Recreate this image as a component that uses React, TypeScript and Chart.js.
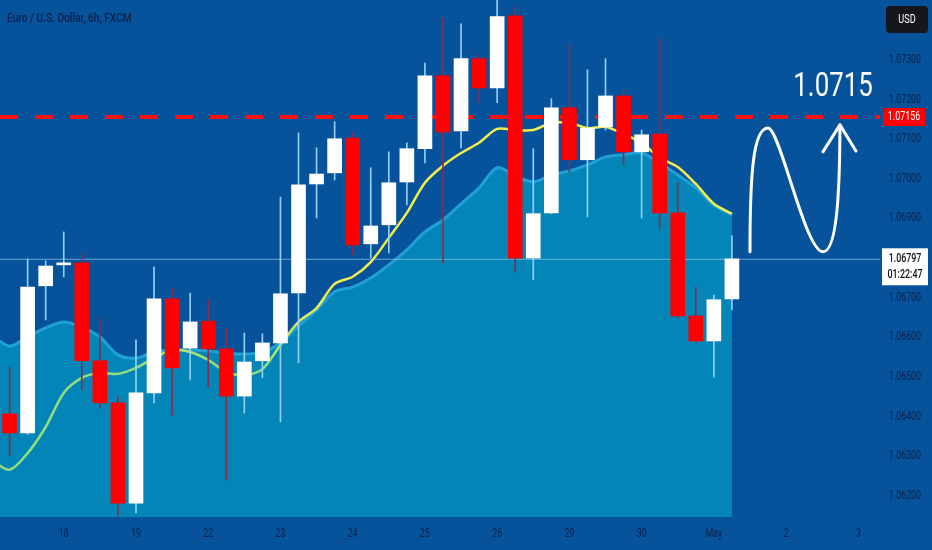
import { useEffect, useRef } from 'react';
import { Chart, registerables } from 'chart.js';

Chart.register(...registerables);

// 6h bars, Apr 17 06:00 -> May 1 06:00 (index = bar number)
const opens = [
  1.06407, 1.06359, 1.0673, 1.06783, 1.06788, 1.06541, 1.06435, 1.06182, 1.0646, 1.06697,
  1.06573, 1.06641, 1.06571, 1.06452, 1.06541, 1.06586, 1.06712, 1.06987, 1.07015, 1.07103,
  1.06836, 1.06884, 1.06992, 1.07076, 1.0726, 1.07121, 1.07303, 1.07229, 1.07411, 1.068,
  1.06914, 1.07179, 1.07048, 1.07131, 1.07209, 1.07068, 1.07113, 1.06914, 1.06654, 1.06591,
  1.06697,
];
const highs = [
  1.06525, 1.06798, 1.06793, 1.06866, 1.06813, 1.06649, 1.0645, 1.06594, 1.06778, 1.06725,
  1.06712, 1.06695, 1.06624, 1.06611, 1.06609, 1.06954, 1.07116, 1.07078, 1.07144, 1.07116,
  1.07028, 1.07068, 1.07091, 1.07292, 1.07406, 1.07391, 1.07312, 1.0746, 1.07434, 1.07076,
  1.07202, 1.07338, 1.07275, 1.07303, 1.07224, 1.07123, 1.07356, 1.06992, 1.06727, 1.06707,
  1.06856,
];
const lows = [
  1.06301, 1.06355, 1.06644, 1.06753, 1.06467, 1.06422, 1.0615, 1.06157, 1.06435, 1.06404,
  1.06493, 1.06475, 1.0624, 1.06409, 1.06498, 1.06387, 1.06536, 1.06901, 1.06997, 1.06808,
  1.068, 1.06813, 1.06934, 1.0704, 1.06788, 1.07078, 1.07192, 1.07192, 1.06765, 1.06745,
  1.06912, 1.07017, 1.06904, 1.07123, 1.07035, 1.06901, 1.06874, 1.06649, 1.06588, 1.065,
  1.06669,
];
const closes = [
  1.06359, 1.06727, 1.0678, 1.06788, 1.06541, 1.06435, 1.06182, 1.0646, 1.06697, 1.06523,
  1.06639, 1.06571, 1.06452, 1.06538, 1.06586, 1.0671, 1.06985, 1.07012, 1.07101, 1.06833,
  1.06881, 1.0699, 1.07076, 1.0726, 1.07118, 1.07303, 1.07229, 1.07409, 1.068, 1.06912,
  1.07179, 1.07048, 1.07128, 1.07209, 1.07068, 1.07111, 1.06914, 1.06654, 1.06591, 1.06695,
  1.06798,
];

// moving averages, first value belongs to bar -1 (just off the left edge)
const fastMa = [
  1.06291, 1.06266, 1.06308, 1.06374, 1.0646, 1.06498, 1.0651, 1.06508, 1.06523, 1.06548,
  1.06568, 1.06563, 1.06543, 1.06513, 1.06505, 1.0652, 1.06581, 1.06639, 1.06674, 1.06735,
  1.06753, 1.0679, 1.06851, 1.06914, 1.0699, 1.07033, 1.07065, 1.07091, 1.07126, 1.07123,
  1.07123, 1.07141, 1.07141, 1.07128, 1.07131, 1.07113, 1.07091, 1.07053, 1.0703, 1.06987,
  1.06937, 1.06912,
];
const slowMa = [
  1.06606, 1.06578, 1.06601, 1.06624, 1.06639, 1.06626, 1.06601, 1.06556, 1.06548, 1.06563,
  1.06568, 1.06568, 1.06566, 1.06561, 1.06558, 1.06563, 1.06586, 1.06629, 1.06669, 1.06715,
  1.06727, 1.0675, 1.06783, 1.06821, 1.06866, 1.06896, 1.06937, 1.06977, 1.07028, 1.07007,
  1.06992, 1.0701, 1.0702, 1.07035, 1.07055, 1.07061, 1.07065, 1.0704, 1.0701, 1.06977,
  1.06934, 1.06909,
];

const dayLabels = ['18', '19', '22', '23', '24', '25', '26', '29', '30', 'May', '2', '3'];
const dayStartBar = [3, 7, 11, 15, 19, 23, 27, 31, 35, 39, 43, 47];

const title = 'Euro / U.S. Dollar, 6h, FXCM';
const currency = 'USD';
const lastPrice = 1.06797;
const countdown = '01:22:47';
const targetPrice = 1.07156;
const targetText = '1.0715';

// hand drawn arrow: start, then cubic segments (cp1, cp2, end) in bar/price units
const arrowPath = [
  [41.0, 1.06816],
  [41.0, 1.0701], [41.17, 1.07128], [42.0, 1.07128],
  [42.66, 1.07128], [44.05, 1.06816], [45.04, 1.06816],
  [45.76, 1.06816], [45.98, 1.06947], [45.98, 1.07136],
];
const arrowHead = [[45.04, 1.07068], [45.98, 1.07136], [46.87, 1.0707]];
const targetTextAt = [45.6, 1.0723];

const X_MIN = -0.53;
const X_MAX = 48.2;
const Y_MIN = 1.06147;
const Y_MAX = 1.07451;

const BG = '#07539b';
const AXIS_TEXT = '#0b2148';
const FONT = 'Roboto, sans-serif';

// TradingView's font is narrow; squeeze Roboto horizontally
function narrowText(ctx: CanvasRenderingContext2D, text: string, x: number, y: number, align: CanvasTextAlign, sx = 0.78) {
  ctx.save();
  ctx.translate(x, y);
  ctx.scale(sx, 1);
  ctx.textAlign = align;
  ctx.fillText(text, 0, 0);
  ctx.restore();
}

const tvPlugin = {
  id: 'tvDecor',
  beforeDraw(chart: any) {
    const { ctx, width, height } = chart;
    ctx.save();
    ctx.fillStyle = BG;
    ctx.fillRect(0, 0, width, height);
    ctx.restore();
  },
  afterDraw(chart: any) {
    const { ctx, scales, chartArea } = chart;
    const x = scales.x;
    const y = scales.y;
    const px = (p: number[]) => [x.getPixelForValue(p[0]), y.getPixelForValue(p[1])];

    ctx.save();
    ctx.textBaseline = 'middle';

    // title
    ctx.fillStyle = AXIS_TEXT;
    ctx.font = `500 13px ${FONT}`;
    narrowText(ctx, title, 7, 19, 'left');

    // axis labels
    ctx.font = `12px ${FONT}`;
    y.ticks.forEach((t: any) => {
      narrowText(ctx, Number(t.value).toFixed(5), chartArea.right + 25, y.getPixelForValue(t.value), 'center', 0.73);
    });
    x.ticks.forEach((t: any) => {
      const i = dayStartBar.indexOf(t.value);
      if (i >= 0) narrowText(ctx, dayLabels[i], x.getPixelForValue(t.value), chartArea.bottom + 16.5, 'center', 0.72);
    });

    // arrow
    ctx.strokeStyle = '#ffffff';
    ctx.lineWidth = 3;
    ctx.lineCap = 'round';
    ctx.lineJoin = 'round';
    ctx.beginPath();
    const s = px(arrowPath[0]);
    ctx.moveTo(s[0], s[1]);
    for (let i = 1; i + 2 < arrowPath.length; i += 3) {
      const a = px(arrowPath[i]);
      const b = px(arrowPath[i + 1]);
      const c = px(arrowPath[i + 2]);
      ctx.bezierCurveTo(a[0], a[1], b[0], b[1], c[0], c[1]);
    }
    ctx.stroke();
    ctx.beginPath();
    arrowHead.forEach((p, i) => {
      const q = px(p);
      if (i === 0) ctx.moveTo(q[0], q[1]);
      else ctx.lineTo(q[0], q[1]);
    });
    ctx.stroke();

    // target text
    const t = px(targetTextAt);
    ctx.fillStyle = '#ffffff';
    ctx.font = `34px ${FONT}`;
    narrowText(ctx, targetText, t[0], t[1], 'center', 0.76);

    // price scale labels
    const left = chartArea.right;
    const ty = y.getPixelForValue(targetPrice);
    ctx.fillStyle = '#ff0000';
    ctx.fillRect(left + 3, ty - 9, 42, 18);
    ctx.fillStyle = '#ffffff';
    ctx.font = `12px ${FONT}`;
    narrowText(ctx, targetPrice.toFixed(5), left + 24, ty + 0.5, 'center', 0.74);

    const ly = y.getPixelForValue(lastPrice);
    ctx.fillStyle = '#ffffff';
    ctx.fillRect(left + 2, ly - 11, 46, 37);
    ctx.fillStyle = '#111111';
    ctx.font = `500 12px ${FONT}`;
    narrowText(ctx, lastPrice.toFixed(5), left + 25, ly, 'center', 0.74);
    narrowText(ctx, countdown, left + 25, ly + 16, 'center', 0.74);

    ctx.fillStyle = '#15171c';
    ctx.beginPath();
    ctx.roundRect(left + 6, 6, 42, 27, 4);
    ctx.fill();
    ctx.fillStyle = '#ffffff';
    ctx.font = `12px ${FONT}`;
    narrowText(ctx, currency, left + 27, 20, 'center', 0.76);
    ctx.restore();
  },
};

export default function App() {
  const canvasRef = useRef<HTMLCanvasElement>(null);
  const chartRef = useRef<Chart | null>(null);

  useEffect(() => {
    document.body.style.margin = '0';
    if (!canvasRef.current) return;
    if (chartRef.current) chartRef.current.destroy();

    const bars = opens.map((_, i) => i);
    const up = bars.map((i) => closes[i] >= opens[i]);
    const maX = fastMa.map((_, i) => i - 1);

    chartRef.current = new Chart(canvasRef.current, {
      type: 'bar',
      data: {
        datasets: [
          {
            type: 'line',
            label: 'slow',
            data: maX.map((xv, i) => ({ x: xv, y: slowMa[i] })),
            borderColor: '#1fa0d6',
            borderWidth: 3,
            backgroundColor: '#0386b7',
            fill: 'start',
            pointRadius: 0,
            tension: 0.3,
            order: 6,
          },
          {
            type: 'line',
            label: 'fast',
            data: maX.map((xv, i) => ({ x: xv, y: fastMa[i] })),
            borderColor: (c: any) => {
              const { chart } = c;
              if (!chart.chartArea) return '#f2ee4c';
              const sy = chart.scales.y;
              const g = chart.ctx.createLinearGradient(0, sy.getPixelForValue(1.0652), 0, sy.getPixelForValue(1.0669));
              g.addColorStop(0, '#93dc80');
              g.addColorStop(1, '#f2ee4c');
              return g;
            },
            borderWidth: 2.5,
            fill: false,
            pointRadius: 0,
            tension: 0.3,
            order: 5,
          },
          {
            type: 'line',
            label: 'last',
            data: [{ x: X_MIN, y: lastPrice }, { x: X_MAX, y: lastPrice }],
            borderColor: 'rgba(150, 200, 240, 0.7)',
            borderWidth: 1,
            pointRadius: 0,
            fill: false,
            order: 4,
          },
          {
            type: 'line',
            label: 'target',
            data: [{ x: X_MIN, y: targetPrice }, { x: X_MAX, y: targetPrice }],
            borderColor: '#ff1010',
            borderWidth: 4,
            borderDash: [18, 17],
            pointRadius: 0,
            fill: false,
            order: 3,
          },
          {
            type: 'bar',
            label: 'wicks',
            data: bars.map((i) => ({ x: i, y: [lows[i], highs[i]] })),
            backgroundColor: up.map((u) => (u ? '#93cff2' : '#8a2c4e')),
            barThickness: 1,
            grouped: false,
            order: 2,
          },
          {
            type: 'bar',
            label: 'bodies',
            data: bars.map((i) => ({ x: i, y: [opens[i], closes[i]] })),
            backgroundColor: up.map((u) => (u ? '#ffffff' : '#ff0000')),
            barThickness: 14,
            minBarLength: 2,
            grouped: false,
            order: 1,
          },
        ],
      },
      options: {
        responsive: true,
        maintainAspectRatio: false,
        animation: false,
        events: [],
        layout: { padding: 0, autoPadding: false },
        plugins: {
          legend: { display: false },
          tooltip: { enabled: false },
        },
        scales: {
          x: {
            type: 'linear',
            min: X_MIN,
            max: X_MAX,
            offset: false,
            grid: { display: false },
            border: { display: false },
            afterBuildTicks: (scale: any) => {
              scale.ticks = dayStartBar.map((v) => ({ value: v }));
            },
            afterFit: (scale: any) => {
              scale.height = 33;
            },
            ticks: { display: false },
          },
          y: {
            type: 'linear',
            position: 'right',
            min: Y_MIN,
            max: Y_MAX,
            grid: { display: false },
            border: { display: false },
            afterFit: (scale: any) => {
              scale.width = 52;
            },
            ticks: { display: false, stepSize: 0.001, includeBounds: false },
          },
        },
      },
      plugins: [tvPlugin],
    } as any);

    return () => {
      chartRef.current?.destroy();
      chartRef.current = null;
    };
  }, []);

  return (
    <div style={{ width: 932, height: 550, position: 'relative' }}>
      <canvas ref={canvasRef} />
    </div>
  );
}
